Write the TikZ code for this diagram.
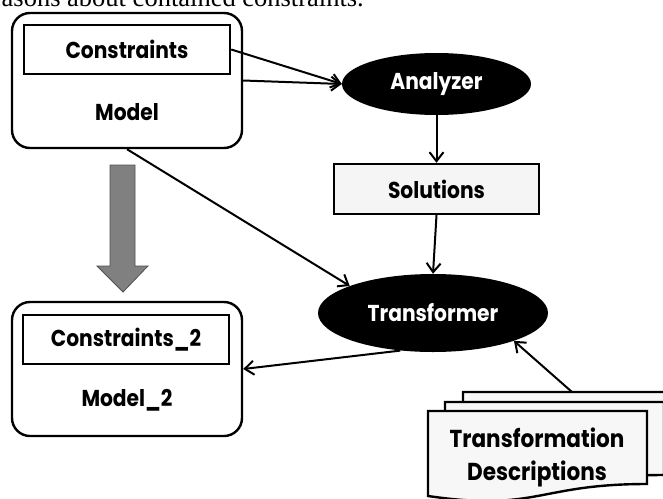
\documentclass[tikz,border=0pt]{standalone}
\usepackage{fontspec}
\setmainfont{Liberation Serif}
\newfontfamily\gothic{Poppins}[FakeStretch=0.88]
\usetikzlibrary{arrows.meta,shapes.geometric}
\definecolor{blockgray}{RGB}{128,128,128}
\definecolor{blockedge}{RGB}{80,80,80}

\begin{document}
\begin{tikzpicture}[x=1pt,y=-1pt,
  lbl/.style={font=\gothic\bfseries\fontsize{23}{26}\selectfont},
  outerbox/.style={draw,line width=2.4pt,rounded corners=18pt,minimum width=230pt,inner sep=0pt},
  innerbox/.style={draw,line width=2.4pt,fill=white,minimum width=206pt,minimum height=49pt,inner sep=0pt,lbl},
  oval/.style={ellipse,fill=black,text=white,inner sep=0pt,lbl},
  page/.style={draw,line width=2.4pt,fill=gray!6},
  conn/.style={line width=2pt,-{Straight Barb[length=9pt,width=14pt,line width=2pt]}},
  bigarrow/.style={fill=blockgray,draw=blockedge,line width=0.8pt}
]
\useasboundingbox (0,0) rectangle (663,498);
\clip (0,0) rectangle (663,498);

% running text of the page above the figure
\node[anchor=base east,inner sep=0pt,font=\fontsize{26.5}{30}\selectfont] (caption) at (364,6) {reasons about contained constraints.};

% source model
\node[outerbox,minimum height=135pt] (model) at (127,80.5) {};
\node[innerbox] (cons) at (127,49.5) {Constraints};
\node[lbl] (modellbl) at (127,112) {Model};

% analyzer and its solutions
\node[oval,minimum width=189pt,minimum height=62pt] (ana) at (436.5,84) {Analyzer};
\node[innerbox,fill=gray!8,minimum width=205pt,minimum height=50pt] (sol) at (436.5,189) {Solutions};

% transformer
\node[oval,minimum width=230pt,minimum height=78pt] (tra) at (433,313) {Transformer};

% target model
\node[outerbox,minimum height=134pt] (model2) at (127,369) {};
\node[innerbox] (cons2) at (126,339.5) {Constraints\_2};
\node[lbl] (model2lbl) at (127,400) {Model\_2};

% block arrow from model to model_2
\draw[bigarrow] (110,165) -- (135,165) -- (135,266) -- (148,266) -- (123,292) -- (97,266) -- (110,266) -- cycle;

% stack of transformation descriptions
\foreach \dx/\dy in {35/-19,17/-9,0/0}{
  \draw[page] (428+\dx,411+\dy) -- (647+\dx,411+\dy) -- (647+\dx,484+\dy)
    .. controls (537.5+\dx,484+\dy) and (537.5+\dx,512+\dy) .. (428+\dx,496+\dy) -- cycle;
}
\node[lbl,align=center,font=\gothic\bfseries\fontsize{24.5}{33}\selectfont] (docs) at (537,457) {Transformation\\Descriptions};
\coordinate (docstop) at (572,392);

% connectors
\draw[conn] (cons.east) -- (ana.west);
\draw[conn] (model.east) -- (ana.west);
\draw[conn] (ana.south) -- (sol.north);
\draw[conn] (sol.south) -- (tra.north);
\draw[conn] (model.south) -- (tra.162);
\draw[conn] (tra.229) -- (model2.east);
\draw[conn] (docstop) -- (tra.-19.5);
\end{tikzpicture}
\end{document}
